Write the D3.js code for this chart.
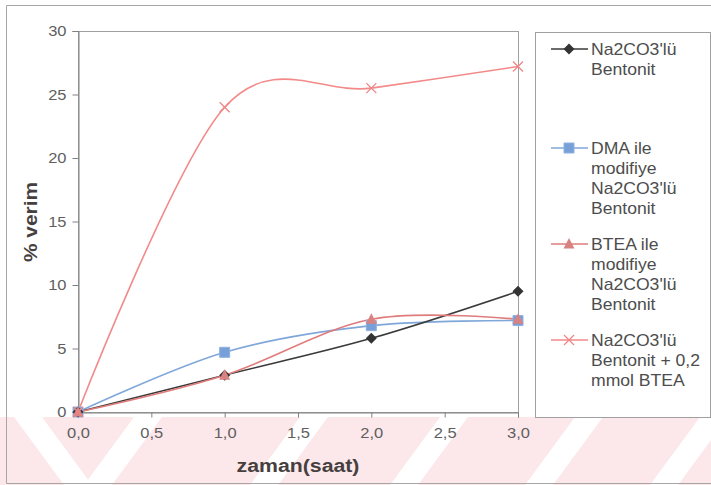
<!DOCTYPE html>
<html>
<head>
<meta charset="utf-8">
<script src="https://cdn.jsdelivr.net/npm/d3@7"></script>
<style>
  html, body { margin: 0; padding: 0; background: #fff; }
  svg { display: block; }
  text { font-family: "Liberation Sans", Arial, sans-serif; }
</style>
</head>
<body>
<svg id="chart" width="711" height="485"></svg>
<script>
// Reaction time (hours) and yield (%) for four bentonite samples
const times = [0, 1, 2, 3];
const seriesNames = [
  ["Na2CO3'lü", "Bentonit"],
  ["DMA ile", "modifiye", "Na2CO3'lü", "Bentonit"],
  ["BTEA ile", "modifiye", "Na2CO3'lü", "Bentonit"],
  ["Na2CO3'lü", "Bentonit + 0,2", "mmol BTEA"]
];
const na2co3Values = [0, 2.9, 5.8, 9.5];
const dmaValues = [0, 4.7, 6.8, 7.2];
const bteaValues = [0, 2.9, 7.3, 7.3];
const bteaAddedValues = [0, 24.0, 25.5, 27.2];
const xTicks = [0, 0.5, 1, 1.5, 2, 2.5, 3];
const yTicks = [0, 5, 10, 15, 20, 25, 30];
const xTitle = "zaman(saat)";
const yTitle = "% verim";

const series = [
  { name: seriesNames[0], values: na2co3Values, line: "#3a3a3a", fill: "#333333", marker: "diamond" },
  { name: seriesNames[1], values: dmaValues, line: "#7fa7da", fill: "#78a0d8", marker: "square" },
  { name: seriesNames[2], values: bteaValues, line: "#e07c7c", fill: "#d98282", marker: "triangle" },
  { name: seriesNames[3], values: bteaAddedValues, line: "#f28a8a", fill: "#f08585", marker: "cross" }
];

const svg = d3.select("#chart");
const W = 711, H = 485;
const plot = { left: 78, right: 518, top: 31, bottom: 412 };

// Soft pink striped band along the bottom of the page
const band = svg.append("g");
band.append("rect").attr("x", 0).attr("y", 417).attr("width", W).attr("height", H - 417)
  .attr("fill", "#fce7ea");
const gaps = [
  { t: 14, b: 64, w: 28 },
  { t: 134, b: 84, w: 28 },
  { t: 300, b: 250, w: 28 },
  { t: 440, b: 390, w: 28 },
  { t: 575, b: 525, w: 28 },
  { t: 700, b: 650, w: 28 }
];
band.selectAll("path.gap").data(gaps).join("path")
  .attr("class", "gap")
  .attr("fill", "#ffffff")
  .attr("d", g => `M${g.t},417L${g.t + g.w},417L${g.b + g.w},${H}L${g.b},${H}Z`);

// Outer frame
svg.append("path").attr("fill", "none").attr("stroke", "#a6a6a6").attr("stroke-width", 1)
  .attr("d", `M${W},5.5H6.5V483.5H${W}`);

const x = d3.scaleLinear().domain([0, 3]).range([plot.left, plot.right]);
const y = d3.scaleLinear().domain([0, 30]).range([plot.bottom, plot.top]);

// Plot area border
svg.append("rect")
  .attr("x", plot.left + 0.5).attr("y", plot.top + 0.5)
  .attr("width", plot.right - plot.left).attr("height", plot.bottom - plot.top)
  .attr("fill", "none").attr("stroke", "#a0a0a0").attr("stroke-width", 1);

const sx = 1.1; // glyphs are drawn slightly wide

// Y axis
const yAxis = svg.append("g").attr("transform", `translate(${plot.left + 0.5},0)`)
  .call(d3.axisLeft(y).tickValues(yTicks).tickSize(6).tickPadding(6).tickFormat(d3.format("d")));
yAxis.select(".domain").attr("stroke", "#808080");
yAxis.selectAll(".tick line").attr("stroke", "#808080");
yAxis.selectAll(".tick text")
  .attr("font-size", 15).attr("fill", "#5f5f5f")
  .attr("font-family", "Liberation Sans, Arial, sans-serif")
  .attr("transform", function () { const tx = +d3.select(this).attr("x"); return `translate(${tx * (1 - sx)},0) scale(${sx},1)`; });

// X axis
const xAxis = svg.append("g").attr("transform", `translate(0,${plot.bottom + 0.5})`)
  .call(d3.axisBottom(x).tickValues(xTicks).tickSize(5).tickPadding(10)
    .tickFormat(d => d3.format(".1f")(d).replace(".", ",")));
xAxis.select(".domain").attr("stroke", "#808080");
xAxis.selectAll(".tick line").attr("stroke", "#808080");
xAxis.selectAll(".tick text")
  .attr("font-size", 15).attr("fill", "#5f5f5f")
  .attr("font-family", "Liberation Sans, Arial, sans-serif")
  .attr("transform", `scale(${sx},1)`)
  .attr("x", 0);

// Axis titles
svg.append("text")
  .attr("transform", `translate(298,472) scale(1.12,1)`)
  .attr("text-anchor", "middle")
  .attr("font-size", 19).attr("font-weight", "bold").attr("fill", "#463f40")
  .text(xTitle);
svg.append("text")
  .attr("transform", `translate(37,222) rotate(-90) scale(1.1,1)`)
  .attr("text-anchor", "middle")
  .attr("font-size", 19).attr("font-weight", "bold").attr("fill", "#463f40")
  .text(yTitle);

// Marker shapes
function markerPath(kind) {
  if (kind === "diamond") return "M0,-5.5L5.5,0L0,5.5L-5.5,0Z";
  if (kind === "square") return "M-5,-5H5V5H-5Z";
  if (kind === "triangle") return "M0,-6L5.5,4.5H-5.5Z";
  return "M-5,-5L5,5M-5,5L5,-5";
}
function drawMarker(g, kind, s) {
  const p = g.append("path").attr("d", markerPath(kind));
  if (kind === "cross") p.attr("fill", "none").attr("stroke", s.fill).attr("stroke-width", 1.3);
  else p.attr("fill", s.fill).attr("stroke", kind === "square" ? "#8fb0de" : "none");
}

// Series lines and markers
const line = d3.line()
  .x((d, i) => x(times[i]))
  .y(d => y(d))
  .curve(d3.curveCatmullRom.alpha(0));

const order = [1, 0, 2, 3];
order.forEach(k => {
  const s = series[k];
  svg.append("path").datum(s.values)
    .attr("fill", "none").attr("stroke", s.line).attr("stroke-width", 1.6)
    .attr("d", line);
});
order.forEach(k => {
  const s = series[k];
  s.values.forEach((v, i) => {
    const g = svg.append("g").attr("transform", `translate(${x(times[i])},${y(v)})`);
    drawMarker(g, s.marker, s);
  });
});

// Legend
const legend = svg.append("g");
legend.append("rect").attr("x", 535.5).attr("y", 32.5).attr("width", 175).attr("height", 385)
  .attr("fill", "#ffffff").attr("stroke", "#a0a0a0").attr("stroke-width", 1);
const legendTop = [49, 148, 244, 340];
const lineGap = 20;
series.forEach((s, k) => {
  const g = legend.append("g").attr("transform", `translate(0,${legendTop[k]})`);
  g.append("line").attr("x1", 551).attr("x2", 588).attr("y1", 0).attr("y2", 0)
    .attr("stroke", s.line).attr("stroke-width", 1.6);
  const m = g.append("g").attr("transform", "translate(569,0)");
  drawMarker(m, s.marker, s);
  s.name.forEach((t, j) => {
    g.append("text")
      .attr("transform", `translate(591,${j * lineGap + 6}) scale(${sx},1)`)
      .attr("font-size", 16).attr("fill", "#4d4d4d")
      .text(t);
  });
});
</script>
</body>
</html>
